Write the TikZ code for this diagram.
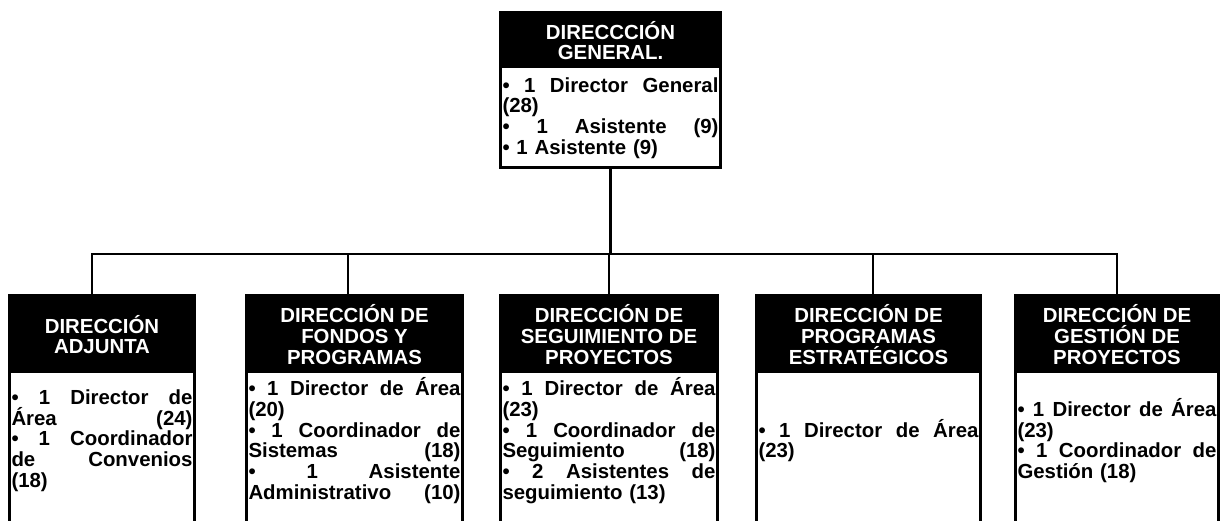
\documentclass[tikz,border=0pt]{standalone}
\usepackage{fontspec}
\setmainfont{Liberation Sans}
\usetikzlibrary{positioning}

\newcommand\jl[1]{\leavevmode\hbox to \bw{\spaceskip=.278em plus 1fil\relax #1}}

\begin{document}
\begin{tikzpicture}[
        every node/.style={inner sep=0pt, font=\bfseries\fontsize{14.5}{14.7}\selectfont},
        head/.style={rectangle, fill=black, text=white, align=center, minimum height=1.925cm},
        body/.style={rectangle, align=left, minimum height=3.35cm, text width=#1,
            execute at begin node={\def\bw{#1}}},
        frame/.style={draw=black, line width=2.1pt},
        link/.style={draw=black, line width=2.1pt}
    ]
    \useasboundingbox (0,0) rectangle (30.5,-13.025);

    % Dirección general
    \node[head, minimum width=5.475cm, minimum height=1.375cm] (gen) at (15.2625,-1.0125) {DIRECCCIÓN\\GENERAL.};
    \node[body=5.4cm, minimum height=2.475cm, below=0pt of gen] (genb) {\jl{• 1 Director General}\\(28)\\\jl{• 1 Asistente (9)}\\• 1 Asistente (9)};
    \draw[frame] (gen.north west) rectangle (genb.south -| gen.east);

    % Direcciones de área
    \node[head, minimum width=4.6cm] (adj) at (2.55,-8.3625) {DIRECCIÓN\\ADJUNTA};
    \node[body=4.525cm, below=0pt of adj] (adjb) {\jl{• 1 Director de}\\\jl{Área (24)}\\\jl{• 1 Coordinador}\\\jl{de Convenios}\\(18)};
    \draw[frame] (adj.north west) rectangle ([yshift=-4cm]adj.south east);

    \node[head, minimum width=5.375cm] (fon) at (8.8625,-8.3625) {DIRECCIÓN DE\\FONDOS Y\\PROGRAMAS};
    \node[body=5.3cm, below=0pt of fon] (fonb) {\jl{• 1 Director de Área}\\(20)\\\jl{• 1 Coordinador de}\\\jl{Sistemas (18)}\\\jl{• 1 Asistente}\\\jl{Administrativo (10)}};
    \draw[frame] (fon.north west) rectangle ([yshift=-4cm]fon.south east);

    \node[head, minimum width=5.4cm] (seg) at (15.225,-8.3625) {DIRECCIÓN DE\\SEGUIMIENTO DE\\PROYECTOS};
    \node[body=5.325cm, below=0pt of seg] (segb) {\jl{• 1 Director de Área}\\(23)\\\jl{• 1 Coordinador de}\\\jl{Seguimiento (18)}\\\jl{• 2 Asistentes de}\\seguimiento (13)};
    \draw[frame] (seg.north west) rectangle ([yshift=-4cm]seg.south east);

    \node[head, minimum width=5.575cm] (pro) at (21.7125,-8.3625) {DIRECCIÓN DE\\PROGRAMAS\\ESTRATÉGICOS};
    \node[body=5.5cm, below=0pt of pro] (prob) {\jl{• 1 Director de Área}\\(23)};
    \draw[frame] (pro.north west) rectangle ([yshift=-4cm]pro.south east);

    \node[head, minimum width=5.05cm] (ges) at (27.925,-8.3625) {DIRECCIÓN DE\\GESTIÓN DE\\PROYECTOS};
    \node[body=4.975cm, below=0pt of ges] (gesb) {\jl{• 1 Director de Área}\\(23)\\\jl{• 1 Coordinador de}\\Gestión (18)};
    \draw[frame] (ges.north west) rectangle ([yshift=-4cm]ges.south east);

    % Conectores
    \coordinate (bar) at (15.225,-6.35);
    \draw[link] (genb.south) -- (genb.south |- bar);
    \draw[link] ([xshift=-0.25cm]adj.north) |- (bar) -| (ges.north);
    \foreach \n/\s in {fon/-0.1625, seg/0, pro/0.1125}
        \draw[link] ([xshift=\s cm]\n.north) -- ([xshift=\s cm]\n.north |- bar);

\end{tikzpicture}
\end{document}
